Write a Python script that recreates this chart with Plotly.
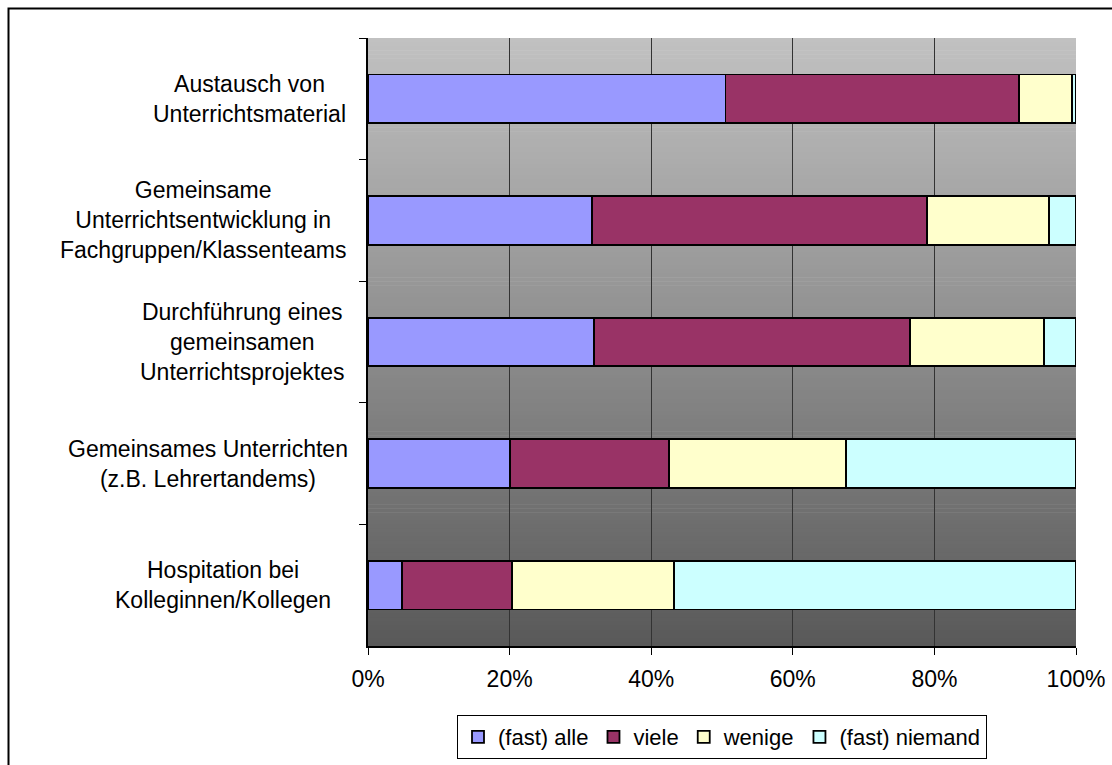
import plotly.graph_objects as go

# Survey items (top to bottom) and answer shares in percent
categories = [
    "Austausch von<br>Unterrichtsmaterial",
    "Gemeinsame<br>Unterrichtsentwicklung in<br>Fachgruppen/Klassenteams",
    "Durchführung eines<br>gemeinsamen<br>Unterrichtsprojektes",
    "Gemeinsames Unterrichten<br>(z.B. Lehrertandems)",
    "Hospitation bei<br>Kolleginnen/Kollegen",
]
fast_alle = [50.5, 31.6, 31.9, 20.1, 4.8]
viele = [41.4, 47.3, 44.7, 22.4, 15.5]
wenige = [7.5, 17.3, 18.9, 25.0, 22.9]
fast_niemand = [0.6, 3.8, 4.5, 32.5, 56.8]

series_names = ["(fast) alle", "viele", "wenige", "(fast) niemand"]
x_ticks = [0, 20, 40, 60, 80, 100]

# styling
W, H = 1112, 765
ML, MR, MT, MB = 368, 36, 38, 119
FONT = "Liberation Sans, Arial, sans-serif"
FS = 23
colors = ["#9999FF", "#993366", "#FFFFCC", "#CCFFFF"]
label_shift = [-20, -20, -21, -18, -35]

fig = go.Figure()
for name, vals, col in zip(series_names, [fast_alle, viele, wenige, fast_niemand], colors):
    fig.add_trace(go.Bar(
        name=name, y=categories, x=vals, orientation="h",
        marker=dict(color=col, line=dict(color="black", width=1.8)),
        hoverinfo="x+y+name",
    ))

# vertical grey gradient behind the plot area
shapes = []
n_bands = 150
top_v, bot_v = 193, 89
for i in range(n_bands):
    t = (i + 0.5) / n_bands
    v = round(top_v + (bot_v - top_v) * t)
    shapes.append(dict(
        type="rect", xref="paper", yref="paper", layer="below",
        x0=0, x1=1, y0=1 - (i + 1) / n_bands - 0.001, y1=1 - i / n_bands,
        fillcolor=f"rgb({v},{v},{v})", line=dict(width=0),
    ))

# outer chart frame
pw, ph = W - ML - MR, H - MT - MB
def px_x(p):
    return (p - ML) / pw
def px_y(p):
    return (H - MB - p) / ph
shapes.append(dict(
    type="rect", xref="paper", yref="paper", layer="above",
    x0=px_x(8.5), x1=px_x(1300), y0=px_y(8.5), y1=px_y(1000),
    line=dict(color="black", width=2), fillcolor="rgba(0,0,0,0)",
))

annotations = []
for cat, sh in zip(categories, label_shift):
    annotations.append(dict(
        xref="paper", yref="y", x=0, y=cat, xanchor="right", yanchor="middle",
        xshift=sh, text=cat, showarrow=False, align="center",
        font=dict(family=FONT, size=FS, color="black"),
    ))

fig.update_layout(
    width=W, height=H,
    margin=dict(l=ML, r=MR, t=MT, b=MB, pad=0, autoexpand=False),
    barmode="stack", bargap=0.6,
    paper_bgcolor="white", plot_bgcolor="rgba(0,0,0,0)",
    font=dict(family=FONT, size=FS, color="black"),
    shapes=shapes, annotations=annotations,
    showlegend=True,
    legend=dict(
        orientation="h", x=0.5, y=px_y(715), xanchor="center", yanchor="top",
        bordercolor="black", borderwidth=1, bgcolor="white",
        font=dict(family=FONT, size=22, color="black"),
        traceorder="normal", itemwidth=30, tracegroupgap=0,
    ),
    xaxis=dict(
        range=[0, 100], tickmode="array", tickvals=x_ticks,
        ticktext=[f"{t}%" for t in x_ticks],
        showgrid=True, gridcolor="#333333", gridwidth=1,
        showline=True, linecolor="black", linewidth=1.5,
        ticks="outside", ticklen=7, tickcolor="black", tickwidth=1,
        ticklabelstandoff=5,
        zeroline=False, fixedrange=True, automargin=False,
        tickfont=dict(family=FONT, size=FS, color="black"),
    ),
    yaxis=dict(
        autorange="reversed", showticklabels=False,
        tickson="boundaries", ticks="outside", ticklen=7, tickcolor="black",
        showline=True, linecolor="black", linewidth=1.5,
        showgrid=False, zeroline=False, fixedrange=True, automargin=False,
    ),
)

fig.write_html("out.html")
